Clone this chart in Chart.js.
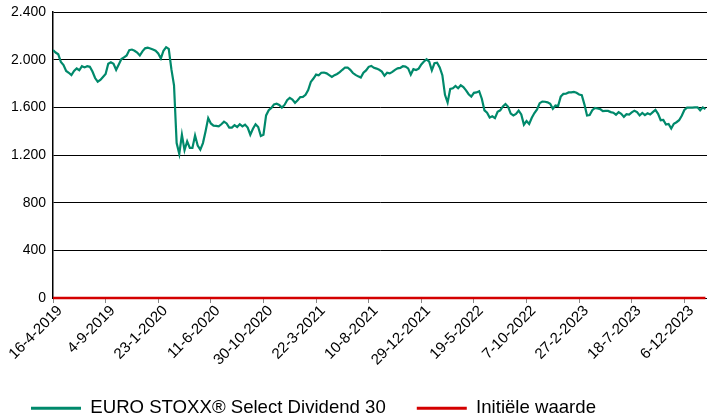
<!DOCTYPE html>
<html>
<head>
<meta charset="utf-8">
<title>EURO STOXX Select Dividend 30</title>
<script src="https://cdn.jsdelivr.net/npm/chart.js@4.4.1/dist/chart.umd.min.js"></script>
<style>
    html, body { margin: 0; padding: 0; background: #fff; }
    #chart { display: block; }
</style>
</head>
<body>
<canvas id="chart" width="707" height="420"></canvas>
<script>
// Tick labels, one every 100 trading days
const tickLabels = [
    '16-4-2019', '4-9-2019', '23-1-2020', '11-6-2020', '30-10-2020', '22-3-2021', '10-8-2021',
    '29-12-2021', '19-5-2022', '7-10-2022', '27-2-2023', '18-7-2023', '6-12-2023'
];
const tickStep = 100;   // trading days between labels
const dayStep = 5;      // trading days between readings
const lastDay = 1243;

// Index level, read every 5 trading days
const indexValues = [
    2080, 2060, 2045, 1980, 1954, 1905, 1890, 1870, 1905, 1926,
    1911, 1945, 1935, 1945, 1940, 1900, 1846, 1815, 1830, 1855,
    1880, 1965, 1978, 1965, 1915, 1960, 2005, 2020, 2035, 2080,
    2085, 2075, 2060, 2035, 2070, 2095, 2100, 2094, 2085, 2075,
    2052, 2010, 2075, 2105, 2090, 1920, 1785, 1300, 1210, 1370,
    1240, 1315, 1260, 1260, 1363, 1280, 1245, 1300, 1400, 1510,
    1465, 1447, 1445, 1440, 1458, 1480, 1465, 1430, 1430, 1450,
    1435, 1458, 1440, 1455, 1430, 1370, 1420, 1458, 1435, 1360,
    1370, 1532, 1576, 1595, 1625, 1630, 1620, 1598, 1620, 1660,
    1680, 1665, 1638, 1660, 1686, 1688, 1705, 1745, 1813, 1842,
    1875, 1869, 1890, 1892, 1885, 1870, 1855, 1870, 1880, 1895,
    1915, 1934, 1934, 1915, 1888, 1872, 1860, 1850, 1890, 1910,
    1940, 1948, 1932, 1925, 1915, 1900, 1865, 1890, 1885, 1897,
    1915, 1927, 1931, 1945, 1942, 1927, 1875, 1920, 1913, 1925,
    1960, 1985, 2003, 1983, 1911, 1970, 1975, 1935, 1870, 1705,
    1640, 1755, 1760, 1780, 1760, 1785, 1770, 1743, 1710, 1690,
    1722, 1725, 1735, 1672, 1575, 1555, 1515, 1525, 1510, 1563,
    1575, 1608, 1628, 1605, 1548, 1532, 1545, 1572, 1540, 1455,
    1485, 1460, 1512, 1552, 1583, 1635, 1648, 1647, 1642, 1630,
    1588, 1615, 1611, 1690, 1713, 1714, 1725, 1725, 1730, 1722,
    1708, 1702, 1625, 1532, 1535, 1576, 1595, 1590, 1585, 1568,
    1570, 1570, 1560, 1555, 1538, 1560, 1545, 1520, 1543, 1540,
    1558, 1572, 1560, 1532, 1553, 1535, 1550, 1540, 1560, 1578,
    1545, 1492, 1494, 1455, 1460, 1422, 1462, 1475, 1492, 1530,
    1578, 1597, 1597, 1597, 1600, 1600, 1575, 1600, 1585
];
const initialValue = 0;

const seriesNames = ['EURO STOXX® Select Dividend 30', 'Initiële waarde'];
const seriesColors = ['#00896b', '#d40000'];

const days = indexValues.map((_, i) => i * dayStep);

function formatThousands(v) {
    return String(v).replace(/\B(?=(\d{3})+(?!\d))/g, '.');
}

Chart.defaults.font.family = "'Liberation Sans', Arial, sans-serif";
Chart.defaults.color = '#000';

const chart = new Chart(document.getElementById('chart'), {
    type: 'line',
    data: {
        datasets: [
            {
                label: seriesNames[0],
                data: days.map((d, i) => ({ x: d, y: indexValues[i] })),
                borderColor: seriesColors[0],
                backgroundColor: seriesColors[0],
                borderWidth: 2.2,
                pointRadius: 0,
                tension: 0
            },
            {
                label: seriesNames[1],
                data: days.map(d => ({ x: d, y: initialValue })),
                borderColor: seriesColors[1],
                backgroundColor: seriesColors[1],
                borderWidth: 2.5,
                pointRadius: 0,
                clip: 4
            }
        ]
    },
    options: {
        responsive: false,
        animation: false,
        layout: {
            padding: 0
        },
        plugins: {
            tooltip: { enabled: false },
            legend: {
                position: 'bottom',
                align: 'start',
                maxHeight: 52,
                labels: {
                    font: { size: 18.6 },
                    boxWidth: 50,
                    boxHeight: 3,
                    padding: 31,
                    generateLabels: (c) => Chart.defaults.plugins.legend.labels.generateLabels(c)
                        .map(item => ({ ...item, fillStyle: item.strokeStyle, lineWidth: 0 }))
                }
            }
        },
        scales: {
            x: {
                type: 'linear',
                min: 0,
                max: lastDay,
                // one tick per label, every 100 trading days
                afterBuildTicks: (scale) => {
                    scale.ticks = tickLabels.map((_, i) => ({ value: i * tickStep }));
                },
                ticks: {
                    autoSkip: false,
                    minRotation: 45,
                    maxRotation: 45,
                    padding: -1,
                    labelOffset: 7,
                    font: { size: 15 },
                    callback: (v) => tickLabels[Math.round(v / tickStep)]
                },
                grid: {
                    drawOnChartArea: false,
                    drawTicks: true,
                    tickLength: 5,
                    color: '#888'
                },
                border: { color: '#000', width: 1 }
            },
            y: {
                min: 0,
                max: 2400,
                afterFit: (scale) => {
                    scale.width = 53;
                    scale.paddingTop = 12;
                },
                ticks: {
                    stepSize: 400,
                    padding: 7,
                    font: { size: 14 },
                    callback: (v) => formatThousands(v)
                },
                grid: {
                    color: '#000',
                    lineWidth: 1,
                    drawTicks: false
                },
                border: { color: '#000', width: 1.5 }
            }
        }
    }
});
</script>
</body>
</html>
